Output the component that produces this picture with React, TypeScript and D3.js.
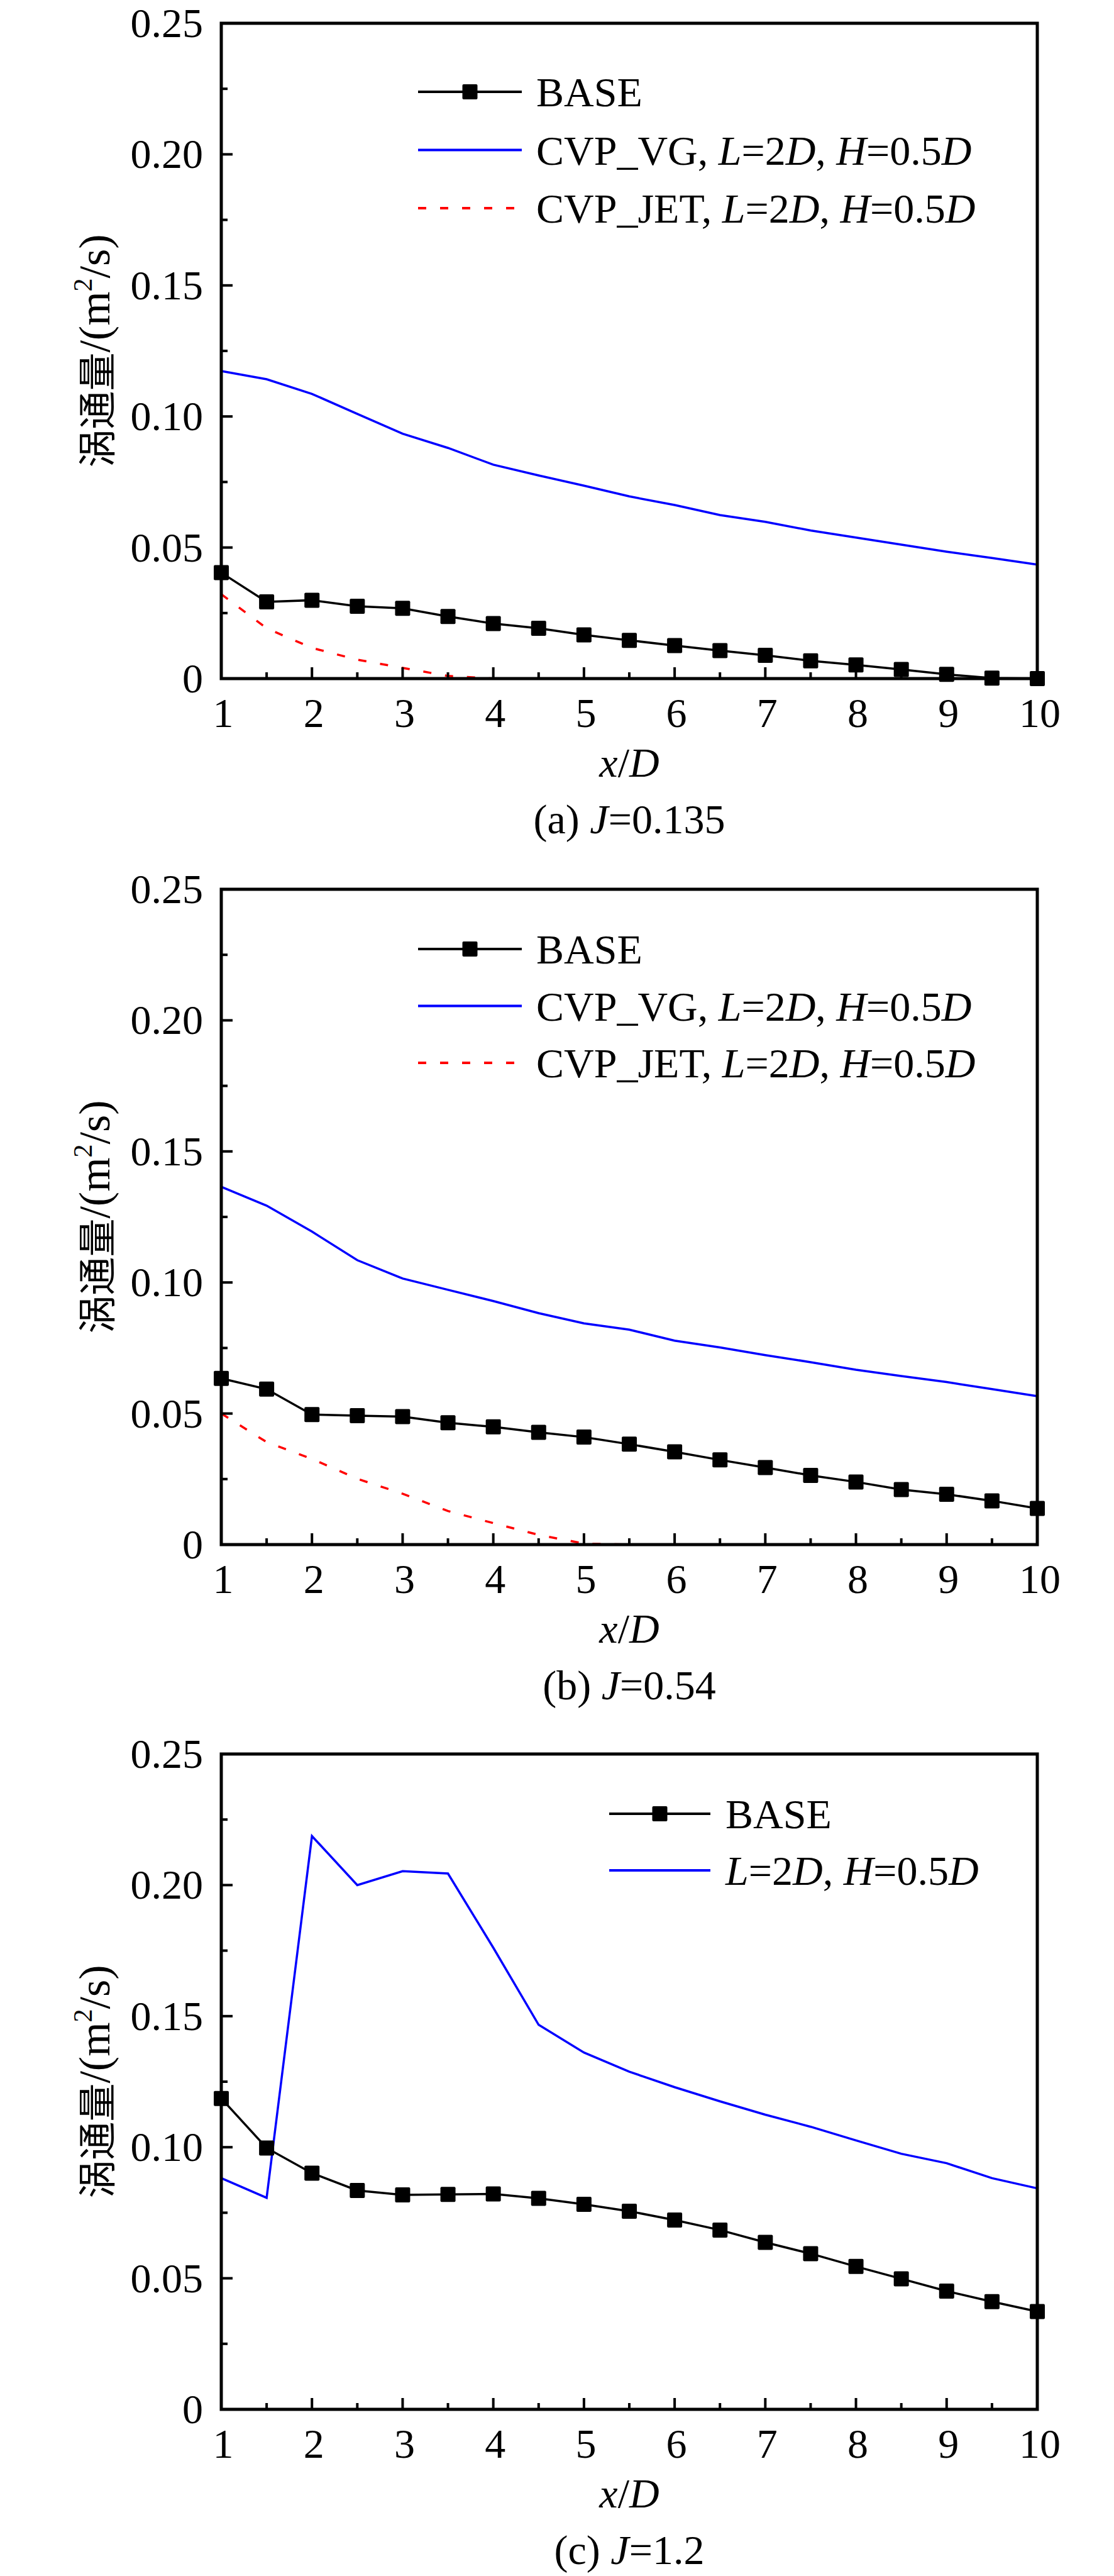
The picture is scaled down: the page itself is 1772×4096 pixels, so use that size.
import { useEffect, useRef } from "react"
import * as d3 from "d3"

// x/D stations
const xStations = [1, 1.5, 2, 2.5, 3, 3.5, 4, 4.5, 5, 5.5, 6, 6.5, 7, 7.5, 8, 8.5, 9, 9.5, 10]

// (a) J=0.135
const baseA = [0.0404, 0.0293, 0.0299, 0.0276, 0.0268, 0.0237, 0.021, 0.0192, 0.0167, 0.0146, 0.0126, 0.0107, 0.0089, 0.0068, 0.0052, 0.0035, 0.0016, 0.0002, 0]
const vgA = [0.1173, 0.1142, 0.1086, 0.101, 0.0934, 0.088, 0.0816, 0.0775, 0.0736, 0.0695, 0.0662, 0.0624, 0.0598, 0.0565, 0.0538, 0.0511, 0.0484, 0.046, 0.0435]
const jetA = [0.0322, 0.0192, 0.0117, 0.0072, 0.0041, 0.001, 0, 0, 0, 0, 0, 0, 0, 0, 0, 0, 0, 0, 0]

// (b) J=0.54
const baseB = [0.0634, 0.0593, 0.0496, 0.0492, 0.0488, 0.0465, 0.0449, 0.0428, 0.041, 0.0383, 0.0354, 0.0323, 0.0294, 0.0264, 0.0239, 0.021, 0.0192, 0.0167, 0.0138]
const vgB = [0.1365, 0.1293, 0.1194, 0.1085, 0.1015, 0.0972, 0.0929, 0.0883, 0.0844, 0.082, 0.0778, 0.0752, 0.0723, 0.0696, 0.0667, 0.0643, 0.062, 0.0593, 0.0566]
const jetB = [0.05, 0.0391, 0.0327, 0.0251, 0.0194, 0.0128, 0.0082, 0.0037, 0.0004, 0, 0, 0, 0, 0, 0, 0, 0, 0, 0]

// (c) J=1.2
const baseC = [0.1186, 0.0997, 0.0901, 0.0835, 0.0818, 0.082, 0.0822, 0.0805, 0.0782, 0.0756, 0.0722, 0.0684, 0.0637, 0.0594, 0.0545, 0.0498, 0.0451, 0.0411, 0.0373]
const vgC = [0.0882, 0.0807, 0.2187, 0.2, 0.2053, 0.2044, 0.1761, 0.1467, 0.1361, 0.1288, 0.1229, 0.1175, 0.1124, 0.1078, 0.1026, 0.0975, 0.0939, 0.0882, 0.0843]

const yTicks = [0, 0.05, 0.1, 0.15, 0.2, 0.25]
const yMinorTicks = [0.025, 0.075, 0.125, 0.175, 0.225]
const xTicks = [1, 2, 3, 4, 5, 6, 7, 8, 9, 10]
const xMinorTicks = [1.5, 2.5, 3.5, 4.5, 5.5, 6.5, 7.5, 8.5, 9.5]

// label pieces: [text, italic]
const baseLabel: [string, boolean][] = [["BASE", false]]
const vgLabel: [string, boolean][] = [["CVP_VG, ", false], ["L", true], ["=2", false], ["D", true], [", ", false], ["H", true], ["=0.5", false], ["D", true]]
const jetLabel: [string, boolean][] = [["CVP_JET, ", false], ["L", true], ["=2", false], ["D", true], [", ", false], ["H", true], ["=0.5", false], ["D", true]]
const ldLabel: [string, boolean][] = [["L", true], ["=2", false], ["D", true], [", ", false], ["H", true], ["=0.5", false], ["D", true]]

const captionA: [string, boolean][] = [["(a) ", false], ["J", true], ["=0.135", false]]
const captionB: [string, boolean][] = [["(b) ", false], ["J", true], ["=0.54", false]]
const captionC: [string, boolean][] = [["(c) ", false], ["J", true], ["=1.2", false]]

const yTitleZh = "涡通量"

type Series = { values: number[]; color: string; dash?: string; markers?: boolean; label: [string, boolean][] }

const panels = [
  {
    top: 37,
    legend: { x1: 665, x2: 830, textX: 853, y0: 146, gap: 92.5 },
    caption: captionA,
    series: [
      { values: baseA, color: "#000000", markers: true, label: baseLabel },
      { values: vgA, color: "#0000FF", label: vgLabel },
      { values: jetA, color: "#FF0000", dash: "13,22", label: jetLabel },
    ] as Series[],
  },
  {
    top: 1414,
    legend: { x1: 665, x2: 830, textX: 853, y0: 1509, gap: 90.5 },
    caption: captionB,
    series: [
      { values: baseB, color: "#000000", markers: true, label: baseLabel },
      { values: vgB, color: "#0000FF", label: vgLabel },
      { values: jetB, color: "#FF0000", dash: "13,22", label: jetLabel },
    ] as Series[],
  },
  {
    top: 2789,
    legend: { x1: 969, x2: 1130, textX: 1154, y0: 2884, gap: 90 },
    caption: captionC,
    series: [
      { values: baseC, color: "#000000", markers: true, label: baseLabel },
      { values: vgC, color: "#0000FF", label: ldLabel },
    ] as Series[],
  },
]

const FONT = "Liberation Serif, serif"
const FONT_ZH = "Noto Sans CJK SC, sans-serif"

export default function App() {
  const ref = useRef<SVGSVGElement>(null)

  useEffect(() => {
    const svg = d3.select(ref.current)
    svg.selectAll("*").remove()

    const left = 352
    const right = 1650
    const plotH = 1042
    const fs = 66

    const addRich = (g: d3.Selection<SVGTextElement, unknown, null, undefined>, parts: [string, boolean][]) => {
      parts.forEach(([t, it]) => {
        g.append("tspan").attr("font-style", it ? "italic" : "normal").text(t)
      })
    }

    panels.forEach((p) => {
      const top = p.top
      const bottom = top + plotH
      const x = d3.scaleLinear().domain([1, 10]).range([left, right])
      const y = d3.scaleLinear().domain([0, 0.25]).range([bottom, top])

      const g = svg.append("g").style("font-family", FONT)

      // data lines (drawn under the frame)
      const line = d3
        .line<number>()
        .x((_, i) => x(xStations[i]))
        .y((d) => y(d))

      p.series
        .slice()
        .reverse()
        .forEach((s) => {
          g.append("path")
            .attr("d", line(s.values) as string)
            .attr("fill", "none")
            .attr("stroke", s.color)
            .attr("stroke-width", 3.5)
            .attr("stroke-dasharray", s.dash ?? null)
          if (s.markers) {
            g.selectAll(null)
              .data(s.values)
              .enter()
              .append("rect")
              .attr("x", (_, i) => x(xStations[i]) - 12)
              .attr("y", (d) => y(d) - 12)
              .attr("width", 24)
              .attr("height", 24)
              .attr("rx", 2)
              .attr("fill", s.color)
          }
        })

      // frame
      g.append("rect")
        .attr("x", left)
        .attr("y", top)
        .attr("width", right - left)
        .attr("height", plotH)
        .attr("fill", "none")
        .attr("stroke", "#000")
        .attr("stroke-width", 5)

      // y ticks (inward)
      yTicks.forEach((t) => {
        g.append("line")
          .attr("x1", left)
          .attr("x2", left + 18)
          .attr("y1", y(t))
          .attr("y2", y(t))
          .attr("stroke", "#000")
          .attr("stroke-width", 4)
        g.append("text")
          .attr("x", 323)
          .attr("y", y(t) + 22)
          .attr("text-anchor", "end")
          .attr("font-size", fs)
          .text(t === 0 ? "0" : d3.format(".2f")(t))
      })
      yMinorTicks.forEach((t) => {
        g.append("line")
          .attr("x1", left)
          .attr("x2", left + 10)
          .attr("y1", y(t))
          .attr("y2", y(t))
          .attr("stroke", "#000")
          .attr("stroke-width", 4)
      })

      // x ticks (inward)
      xTicks.forEach((t) => {
        g.append("line")
          .attr("x1", x(t))
          .attr("x2", x(t))
          .attr("y1", bottom)
          .attr("y2", bottom - 18)
          .attr("stroke", "#000")
          .attr("stroke-width", 4)
        g.append("text")
          .attr("x", x(t) + (t === 10 ? 4 : 3))
          .attr("y", bottom + 77)
          .attr("text-anchor", "middle")
          .attr("font-size", fs)
          .text(String(t))
      })
      xMinorTicks.forEach((t) => {
        g.append("line")
          .attr("x1", x(t))
          .attr("x2", x(t))
          .attr("y1", bottom)
          .attr("y2", bottom - 10)
          .attr("stroke", "#000")
          .attr("stroke-width", 4)
      })

      // axis titles
      const xt = g
        .append("text")
        .attr("x", (left + right) / 2)
        .attr("y", bottom + 156)
        .attr("text-anchor", "middle")
        .attr("font-size", fs)
      addRich(xt, [["x", true], ["/", false], ["D", true]])

      const yt = g
        .append("text")
        .attr("transform", `translate(174, ${(top + bottom) / 2}) rotate(-90)`)
        .attr("text-anchor", "middle")
        .attr("font-size", 70)
      yt.append("tspan").style("font-family", FONT_ZH).attr("font-size", 61).attr("dy", 3).text(yTitleZh)
      yt.append("tspan").attr("dy", -3).text("/(m")
      yt.append("tspan").attr("font-size", 42).attr("dy", -28).text("2")
      yt.append("tspan").attr("dy", 28).text("/s)")

      const cap = g
        .append("text")
        .attr("x", (left + right) / 2)
        .attr("y", bottom + 246)
        .attr("text-anchor", "middle")
        .attr("font-size", fs)
      addRich(cap, p.caption)

      // legend
      const L = p.legend
      p.series.forEach((s, i) => {
        const ly = L.y0 + i * L.gap
        g.append("line")
          .attr("x1", L.x1)
          .attr("x2", L.x2)
          .attr("y1", ly)
          .attr("y2", ly)
          .attr("stroke", s.color)
          .attr("stroke-width", 4)
          .attr("stroke-dasharray", s.dash ?? null)
        if (s.markers) {
          g.append("rect")
            .attr("x", (L.x1 + L.x2) / 2 - 12)
            .attr("y", ly - 12)
            .attr("width", 24)
            .attr("height", 24)
            .attr("rx", 2)
            .attr("fill", s.color)
        }
        const lt = g
          .append("text")
          .attr("x", L.textX)
          .attr("y", ly + 23)
          .attr("font-size", fs)
        addRich(lt, s.label)
      })
    })
  }, [])

  return (
    <svg
      ref={ref}
      width={1772}
      height={4096}
      style={{ position: "absolute", left: 0, top: 0, background: "#fff" }}
    />
  )
}
